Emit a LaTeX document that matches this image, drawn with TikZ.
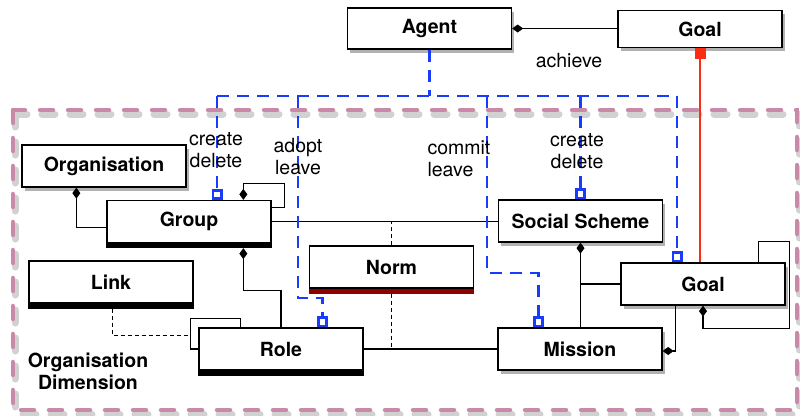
\documentclass[tikz,border=0pt]{standalone}
\usepackage{fontspec}
\setmainfont{TeX Gyre Heros}
\usetikzlibrary{arrows.meta,shadows,calc}
\definecolor{permblue}{RGB}{25,60,250}
\definecolor{framepink}{RGB}{200,138,168}
\definecolor{goalred}{RGB}{250,45,20}
\definecolor{normred}{RGB}{140,0,0}

\begin{document}
\begin{tikzpicture}[x=1pt,y=-1pt,
  every node/.style={font=\fontsize{19.5}{22}\selectfont},
  entity/.style={draw=black, line width=1.3pt, fill=white, minimum width=164pt,
    minimum height=42pt, inner sep=0pt, font=\fontsize{19.5}{22}\selectfont\bfseries},
  shadowed/.style={drop shadow={shadow xshift=2.5pt, shadow yshift=-3.5pt, opacity=0.3, fill=black}},
  conn/.style={draw=black, line width=1.2pt},
  perm/.style={draw=permblue, line width=2.7pt, dash pattern=on 12pt off 8pt},
  dia/.tip={Diamond[length=11pt,width=8pt]},
  sq/.tip={Square[open,length=11pt,width=11pt,fill=white]},
]
\useasboundingbox (0,0) rectangle (800,415);

% organisation dimension frame with its soft shadow
\draw[black, opacity=0.18, line width=7pt, dash pattern=on 13pt off 15pt, line cap=round]
  (15,114) rectangle (799,414);
\draw[framepink, line width=4.5pt, dash pattern=on 13pt off 15pt, line cap=round]
  (13,110) rectangle (797,410);

% entities
\node[entity, shadowed, minimum height=41pt] (agent) at (429.5,28.5) {Agent};
\node[entity, shadowed, minimum height=37pt] (goaltop) at (700,29) {Goal};
\node[entity, shadowed] (org) at (104,166) {Organisation};
\node[entity] (group) at (189,221.5) {Group};
\node[entity, shadowed] (ss) at (580.5,221) {Social Scheme};
\node[entity] (norm) at (391.5,267) {Norm};
\node[entity] (link) at (111,282) {Link};
\node[entity] (role) at (281,349) {Role};
\node[entity, shadowed] (mission) at (580,349) {Mission};
\node[entity, shadowed] (goallow) at (703,284) {Goal};

% bottom bars
\fill[black] (group.south west) rectangle ($(group.south east)+(0,5)$);
\fill[black] (link.south west) rectangle ($(link.south east)+(0,5)$);
\fill[black] (role.south west) rectangle ($(role.south east)+(0,5)$);
\fill[normred] (norm.south west) rectangle ($(norm.south east)+(0,5)$);

% structural links
\draw[conn, dia-] (agent.east) -- (agent.east -| goaltop.west);
\draw[goalred, line width=2.2pt, {Square[length=11pt,width=11pt]}-]
  (goaltop.south) -- (goaltop.south |- goallow.north);
\draw[conn, dia-] ($(org.south west)+(55,0)$) |- ($(group.west)+(0,6)$);
\draw[conn, dia-] ($(group.north west)+(137,0)$) -- ++(0,-16) -- ++(41,0) |- ($(group.east)+(0,-14)$);
\draw[conn, dia-] ($(group.south west)+(137,5)$) -- ++(0,42) -| (role.north);
\draw[conn] ($(role.north west)+(42,0)$) -- ++(0,-9) -| ($(role.west)+(-8,0)$) -- (role.west);
\draw[conn, line width=1pt, dash pattern=on 4pt off 3pt] ($(link.south)+(1,5)$) |- ($(role.west)+(-8,-14)$);
\draw[conn] (group.east) -- (group.east -| ss.west);
\draw[conn, line width=1pt, dash pattern=on 4pt off 3pt] (norm.north) -- (norm.north |- group.east);
\draw[conn, line width=1pt, dash pattern=on 4pt off 3pt] ($(norm.south)+(0,5)$) -- (norm.south |- role.east);
\draw[conn] (role.east) -- (mission.west);
\draw[conn, dia-] (ss.south) -- (ss.south |- mission.north);
\draw[conn] (ss.south |- goallow.west) -- (goallow.west);
\draw[conn, -dia] ($(goallow.south west)+(55,0)$) |- ($(mission.east)+(0,2)$);
\draw[conn, dia-] (goallow.south) -- ++(0,23) -| ($(goallow.north east)+(4,-21)$)
  -| ($(goallow.north east)+(-27,0)$);

% agent permissions
\coordinate (busL) at (217,96);
\coordinate (busR) at (677,96);
\draw[perm] (agent.south) -- (agent.south |- busL);
\draw[perm] (busL) -- (busR);
\draw[perm, -sq] (busL) -- (busL |- group.north);
\draw[perm, -sq] ($(busL)+(81,0)$) -- ++(0,202) -| ($(role.north west)+(124,0)$);
\draw[perm, -sq] ($(busL)+(270,0)$) -- ++(0,177) -| ($(mission.north west)+(41,0)$);
\draw[perm, -sq] (busL -| ss.north) -- (ss.north);
\draw[perm, -sq] (busR) -- (busR |- goallow.north);

% labels
\node (lachieve) at (569,61) {achieve};
\node[align=center] (lcdg) at (216,150) {create\\delete};
\node[align=center] (lal) at (298,157) {adopt\\leave};
\node[align=left, anchor=west] (lcl) at (424,159) {commit\\leave};
\node[align=center] (lcds) at (577,151) {create\\delete};
\node[align=center, font=\fontsize{19.5}{22}\selectfont\bfseries] (ldim) at (88,371) {Organisation\\Dimension};
\end{tikzpicture}
\end{document}
